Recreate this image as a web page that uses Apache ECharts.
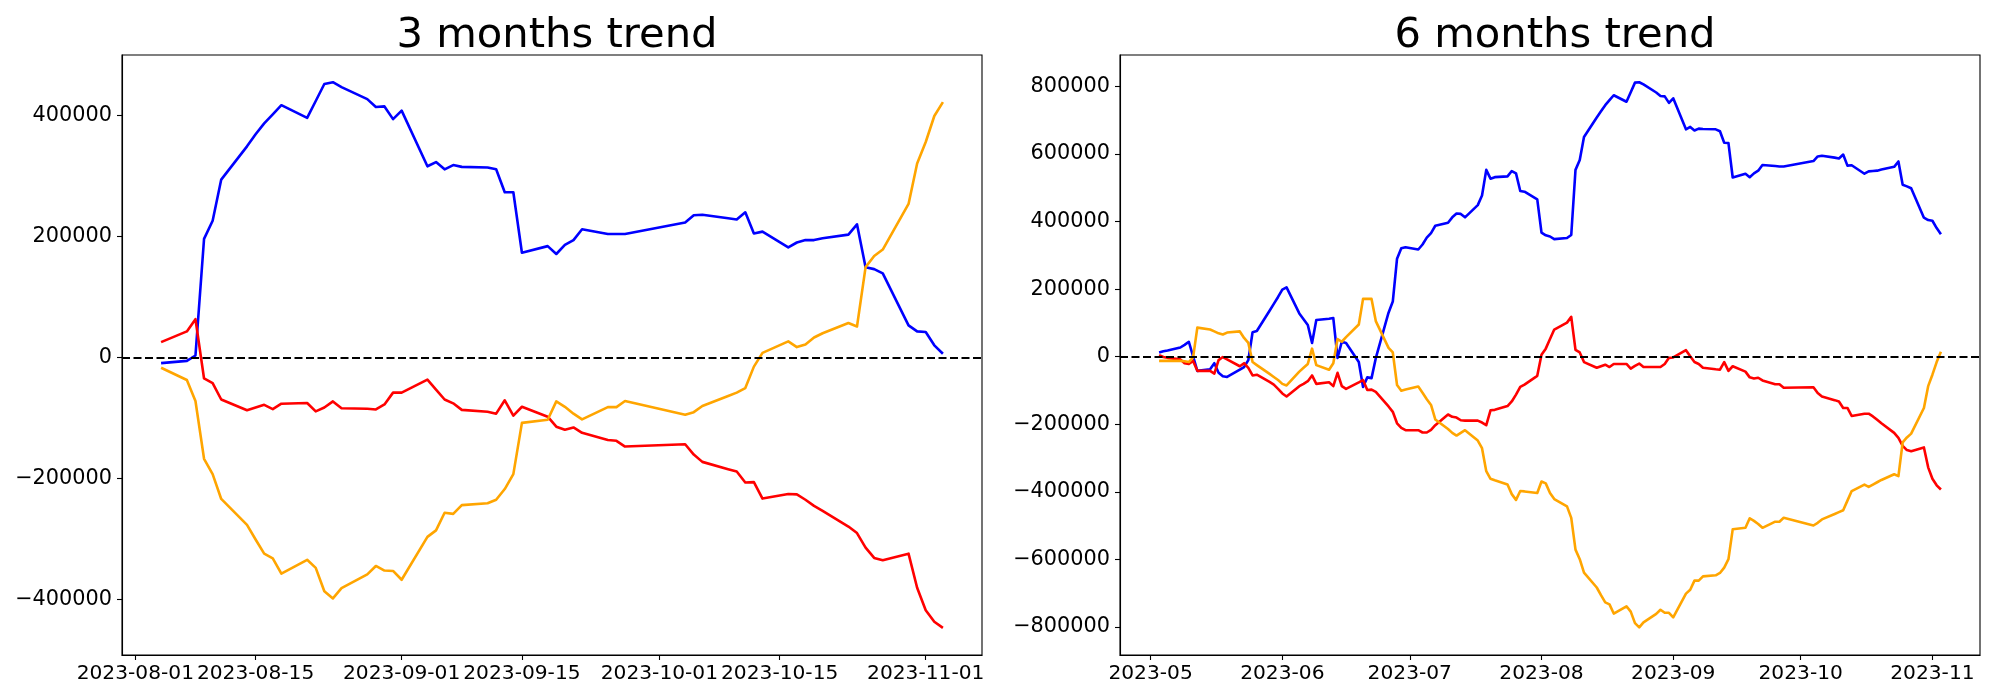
<!DOCTYPE html>
<html>
<head>
<meta charset="utf-8">
<script src="https://cdn.jsdelivr.net/npm/echarts/dist/echarts.min.js"></script>
<style>
  html, body { margin: 0; padding: 0; background: #fff; }
  #chart { width: 2000px; height: 700px; }
</style>
</head>
<body>
<div id="chart"></div>
<script>
// ---------------- DATA ----------------
const titles = ['3 months trend', '6 months trend'];

const dates3 = ['2023-08-04','2023-08-07','2023-08-08','2023-08-09','2023-08-10','2023-08-11','2023-08-14','2023-08-15','2023-08-16','2023-08-17','2023-08-18','2023-08-21','2023-08-22','2023-08-23','2023-08-24','2023-08-25','2023-08-28','2023-08-29','2023-08-30','2023-08-31','2023-09-01','2023-09-04','2023-09-05','2023-09-06','2023-09-07','2023-09-08','2023-09-11','2023-09-12','2023-09-13','2023-09-14','2023-09-15','2023-09-18','2023-09-19','2023-09-20','2023-09-21','2023-09-22','2023-09-25','2023-09-26','2023-09-27','2023-10-04','2023-10-05','2023-10-06','2023-10-09','2023-10-10','2023-10-11','2023-10-12','2023-10-13','2023-10-16','2023-10-17','2023-10-18','2023-10-19','2023-10-20','2023-10-23','2023-10-24','2023-10-25','2023-10-26','2023-10-27','2023-10-30','2023-10-31','2023-11-01','2023-11-02','2023-11-03'];

const blue3 = [-9500,-5700,3200,196000,226000,294000,349000,369000,387000,402000,417000,396000,424000,452000,455000,447000,427000,414000,415000,394000,408000,316000,323000,311000,318000,315000,314000,311000,273000,273000,173000,184000,171000,186000,194000,212000,204000,204000,204000,223000,235000,236000,230000,228000,240000,205000,208000,182000,190000,194000,194000,197000,203000,220000,149000,146000,139000,53000,43000,42000,20000,6000];

const red3 = [25300,43000,63300,-34800,-42400,-69600,-87300,-82900,-78400,-85400,-76500,-75300,-89200,-82900,-72700,-84100,-84800,-86000,-77800,-58200,-58200,-36700,-53100,-69600,-75900,-86700,-89800,-93000,-70900,-96200,-81600,-98000,-114500,-119600,-115800,-124600,-136600,-137900,-147400,-143600,-160700,-172700,-184700,-188500,-206900,-206200,-233400,-225800,-226500,-235300,-245500,-253700,-279600,-290400,-314400,-331500,-335300,-324500,-380800,-418100,-437100,-447200];

const orange3 = [-17100,-37300,-72100,-167600,-192900,-234000,-277000,-301000,-324500,-332100,-357400,-334600,-347900,-386500,-398500,-381500,-358700,-344800,-352400,-353000,-367600,-296700,-285900,-256800,-258700,-244200,-241000,-235300,-217600,-192900,-108200,-103100,-72700,-81600,-93000,-102500,-82200,-82200,-72100,-94900,-90500,-80300,-63900,-58200,-50600,-15200,7600,26600,17100,21500,32900,39900,56900,51200,149300,167600,178400,253700,320700,356200,399200,422000];

const dates6 = ['2023-05-03','2023-05-04','2023-05-05','2023-05-08','2023-05-09','2023-05-10','2023-05-11','2023-05-12','2023-05-15','2023-05-16','2023-05-17','2023-05-18','2023-05-19','2023-05-22','2023-05-23','2023-05-24','2023-05-25','2023-05-26','2023-05-29','2023-05-30','2023-05-31',
'2023-06-01','2023-06-02','2023-06-05','2023-06-06','2023-06-07','2023-06-08','2023-06-09','2023-06-12','2023-06-13','2023-06-14','2023-06-15','2023-06-16','2023-06-19','2023-06-20','2023-06-21','2023-06-22','2023-06-23','2023-06-26','2023-06-27','2023-06-28','2023-06-29','2023-06-30',
'2023-07-03','2023-07-04','2023-07-05','2023-07-06','2023-07-07','2023-07-10','2023-07-11','2023-07-12','2023-07-13','2023-07-14','2023-07-17','2023-07-18','2023-07-19','2023-07-20','2023-07-21','2023-07-24','2023-07-25','2023-07-26','2023-07-27','2023-07-28','2023-07-31',
'2023-08-01','2023-08-02','2023-08-03'].concat(dates3);

const blue6 = [12500,15900,18100,27200,35100,44200,1100,-41900,-37400,-19300,-47600,-57800,-60100,-38500,-30600,-10200,72500,75900,136000,156400,176800,
198300,205100,128000,111000,94000,40800,108800,112200,114400,-3400,44200,40800,-15900,-89500,-61200,-63500,-4500,130300,163200,290100,320700,324100,
317300,332000,352400,366000,387500,396600,412500,423800,422600,412500,448700,477000,552900,526900,531400,533700,549500,542700,490600,488400,465700,
367100,359200,355800,
347900,351300,360300,553000,582400,650400,708200,726300,744500,759200,773900,754600,783000,811300,812400,806000,782000,771700,770500,751300,764900,673100,680100,669600,675200,674000,673000,667400,633400,632300,530300,541600,531400,542700,550600,567600,564300,563100,563100,579000,592600,594800,589200,586900,598300,565500,566600,541600,548400,549500,550700,554000,562000,577900,508800,504200,498600,411400,404500,402300,380700,362600];

const red6 = [4500,-1100,-3400,-7900,-19300,-21500,-12500,-41900,-41900,-49900,-10200,-1100,-7900,-28300,-19300,-32900,-55500,-53300,-74800,-82700,-95200,
-108800,-117800,-87200,-80400,-72500,-55500,-80400,-75900,-87200,-47600,-87200,-95200,-75900,-69100,-98600,-97400,-104200,-147300,-163200,-197200,-210800,-217600,
-217600,-224400,-224400,-216400,-202800,-171100,-177900,-180200,-188100,-189200,-189200,-194900,-202800,-158600,-157400,-146200,-132600,-112200,-89500,-82700,-56700,
5700,23800,52100,
80400,100800,117800,20400,12500,-15900,-32900,-28300,-23800,-30600,-21500,-21500,-35100,-27200,-20400,-30600,-30600,-30600,-21500,-3400,-2300,19300,1100,-15900,-21500,-32900,-37400,-38500,-15900,-41900,-28300,-44200,-61200,-64600,-62300,-70200,-81600,-81600,-91800,-90600,-107600,-117800,-128600,-132600,-151800,-151800,-175600,-168800,-168800,-176800,-187000,-197200,-225500,-240200,-264000,-276500,-279900,-268500,-327500,-361500,-380700,-393200];

const orange6 = [-12500,-12500,-12500,-12500,-13600,-15900,-2300,86100,80400,74800,69100,65700,71400,74800,55500,40800,-15900,-24900,-51000,-60100,-69100,
-80400,-85000,-44200,-32900,-21500,23800,-24900,-38500,-19300,52100,44200,57800,95200,171100,171100,171100,105400,26100,12500,-83800,-100800,-97400,
-88400,-106500,-125800,-142800,-185800,-214100,-225500,-233400,-225500,-217600,-248200,-270800,-338800,-361500,-366000,-378500,-406800,-423800,-397700,-398800,-403400,
-369400,-375000,-403400,
-421500,-443000,-477000,-571100,-599400,-639100,-683200,-705900,-727400,-733100,-760300,-738800,-754600,-788600,-801100,-786400,-761400,-749000,-758000,-758000,-771600,-701400,-690000,-662900,-662900,-650400,-647000,-640200,-624300,-599400,-511000,-506500,-478200,-486100,-495200,-506500,-488400,-488400,-477000,-499700,-491800,-481600,-465700,-460100,-454400,-426100,-397700,-378500,-385300,-378500,-371700,-364900,-347900,-353500,-253800,-239100,-227800,-151800,-87200,-53300,-15900,14700];

const xTicks3 = ['2023-08-01','2023-08-15','2023-09-01','2023-09-15','2023-10-01','2023-10-15','2023-11-01'];
const xTicks6 = ['2023-05','2023-06','2023-07','2023-08','2023-09','2023-10','2023-11'];
const yTicks3 = [-400000,-200000,0,200000,400000];
const yTicks6 = [-800000,-600000,-400000,-200000,0,200000,400000,600000,800000];
const yRange3 = [-492000, 500000];
const yRange6 = [-883000, 893000];

// ---------------- HELPERS ----------------
const FONT = 'DejaVu Sans';
const TICK_FONT = 20.8;
const XTICK_FONT = 20.2;
function ts(s) {
  const p = s.split('-').map(Number);
  return Date.UTC(p[0], p[1] - 1, p.length > 2 ? p[2] : 1);
}
function pairs(dates, vals) { return dates.map((d, i) => [ts(d), vals[i]]); }
function fmtY(v) { return v < 0 ? '\u2212' + Math.abs(v) : String(v); }
function xRange(dates) {
  const a = ts(dates[0]), b = ts(dates[dates.length - 1]);
  const m = (b - a) * 0.05;
  return [a - m, b + m];
}
function xAxisDef(gi, dates, tickDates, tickLabels) {
  const r = xRange(dates);
  const tv = tickDates.map(ts);
  return {
    type: 'value', gridIndex: gi, min: r[0], max: r[1], scale: true,
    axisLine: { show: true, onZero: false, lineStyle: { color: '#000', width: 1.1 } },
    axisTick: { show: true, length: 5, customValues: tv, lineStyle: { color: '#000', width: 1.1 } },
    axisLabel: {
      customValues: tv, hideOverlap: false, margin: 9,
      showMinLabel: true, showMaxLabel: true,
      fontFamily: FONT, fontSize: XTICK_FONT, color: '#000',
      formatter: function (v) {
        let best = 0;
        for (let i = 1; i < tv.length; i++) if (Math.abs(tv[i] - v) < Math.abs(tv[best] - v)) best = i;
        return tickLabels[best];
      }
    },
    splitLine: { show: false }
  };
}
function yAxisDef(gi, range, ticks) {
  return {
    type: 'value', gridIndex: gi, min: range[0], max: range[1],
    axisLine: { show: true, onZero: false, lineStyle: { color: '#000', width: 1.1 } },
    axisTick: { show: true, length: 5, customValues: ticks, lineStyle: { color: '#000', width: 1.1 } },
    axisLabel: { customValues: ticks, margin: 10, fontFamily: FONT, fontSize: TICK_FONT, color: '#000', formatter: fmtY },
    splitLine: { show: false }
  };
}
function lineSeries(gi, dates, vals, color, extra) {
  const s = {
    type: 'line', xAxisIndex: gi, yAxisIndex: gi,
    data: pairs(dates, vals), showSymbol: false, symbol: 'none',
    lineStyle: { color: color, width: 2.6, join: 'round', cap: 'butt' },
    itemStyle: { color: color }, animation: false, silent: true
  };
  return Object.assign(s, extra || {});
}
const zeroLine = {
  markLine: {
    silent: true, symbol: 'none', animation: false,
    label: { show: false },
    lineStyle: { type: [8, 3.5], color: '#000', width: 2.2 },
    data: [{ yAxis: 0 }]
  }
};

// ---------------- CHART ----------------
const chart = echarts.init(document.getElementById('chart'), null, { renderer: 'canvas' });
chart.setOption({
  backgroundColor: '#fff',
  animation: false,
  title: [
    { text: titles[0], left: 552, top: 10, textAlign: 'center',
      textStyle: { fontFamily: FONT, fontSize: 41.7, fontWeight: 'normal', color: '#000' } },
    { text: titles[1], left: 1550, top: 10, textAlign: 'center',
      textStyle: { fontFamily: FONT, fontSize: 41.7, fontWeight: 'normal', color: '#000' } }
  ],
  grid: [
    { left: 122, top: 55, width: 860, height: 600, show: true, borderColor: '#000', borderWidth: 1.1, backgroundColor: 'transparent' },
    { left: 1120, top: 55, width: 860, height: 600, show: true, borderColor: '#000', borderWidth: 1.1, backgroundColor: 'transparent' }
  ],
  xAxis: [
    xAxisDef(0, dates3, xTicks3, xTicks3),
    xAxisDef(1, dates6, xTicks6.map(s => s + '-01'), xTicks6)
  ],
  yAxis: [yAxisDef(0, yRange3, yTicks3), yAxisDef(1, yRange6, yTicks6)],
  series: [
    lineSeries(0, dates3, blue3, '#0000ff'),
    lineSeries(0, dates3, red3, '#ff0000'),
    lineSeries(0, dates3, orange3, '#ffa500', zeroLine),
    lineSeries(1, dates6, blue6, '#0000ff'),
    lineSeries(1, dates6, red6, '#ff0000'),
    lineSeries(1, dates6, orange6, '#ffa500', zeroLine)
  ]
});
</script>
</body>
</html>
